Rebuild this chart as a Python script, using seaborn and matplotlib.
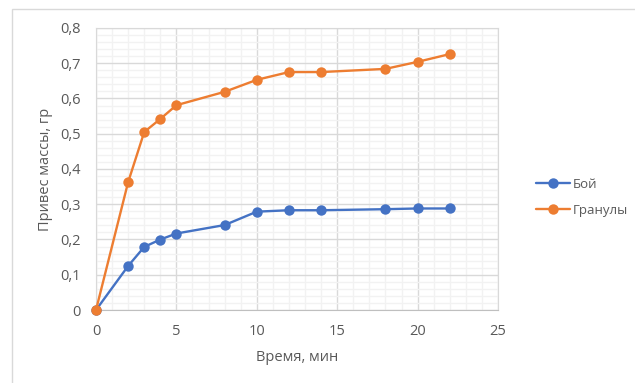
import pandas as pd
import matplotlib.pyplot as plt
import seaborn as sns
from matplotlib.ticker import MultipleLocator, FuncFormatter
from matplotlib.patches import Rectangle

sns.set_style("white")
plt.rcParams["font.family"] = ["Open Sans", "DejaVu Sans"]

TIME = [0, 2, 3, 4, 5, 8, 10, 12, 14, 18, 20, 22]
BOY = [0, 0.125, 0.179, 0.200, 0.217, 0.241, 0.279, 0.283, 0.283, 0.286, 0.288, 0.288]
GRANULES = [0, 0.363, 0.505, 0.542, 0.581, 0.619, 0.653, 0.675, 0.675, 0.684, 0.704, 0.726]
SERIES = ["Бой", "Гранулы"]
COLORS = {"Бой": "#4472C4", "Гранулы": "#ED7D31"}
TEXT = "#595959"


def main():
    df = pd.DataFrame({
        "time": TIME * 2,
        "value": BOY + GRANULES,
        "series": [SERIES[0]] * len(TIME) + [SERIES[1]] * len(TIME),
    })

    fig = plt.figure(figsize=(6.35, 3.83), dpi=100)
    fig.patches.append(Rectangle((12 / 635, -0.1), 1.2, (383 - 9) / 383 + 0.1,
                                 transform=fig.transFigure, fill=False,
                                 edgecolor="#D9D9D9", linewidth=1))
    ax = fig.add_axes([96 / 635, 73 / 383, 402 / 635, 282 / 383])

    sns.lineplot(data=df, x="time", y="value", hue="series", hue_order=SERIES,
                 palette=COLORS, marker="o", markersize=7.5, linewidth=1.7,
                 markeredgewidth=0, ax=ax, zorder=3, clip_on=False)

    ax.set_xlim(0, 25)
    ax.set_ylim(0, 0.8)
    ax.xaxis.set_major_locator(MultipleLocator(5))
    ax.xaxis.set_minor_locator(MultipleLocator(1))
    ax.yaxis.set_major_locator(MultipleLocator(0.1))
    ax.yaxis.set_minor_locator(MultipleLocator(0.02))
    ax.yaxis.set_major_formatter(FuncFormatter(lambda v, p: ("%g" % round(v, 2)).replace(".", ",")))
    ax.grid(which="major", color="#D9D9D9", linewidth=1)
    ax.grid(which="minor", color="#F2F2F2", linewidth=1)
    ax.set_axisbelow(True)
    ax.tick_params(which="both", length=0, colors=TEXT, labelsize=10.5)
    ax.tick_params(axis="x", pad=10)
    ax.tick_params(axis="y", pad=11)
    for s in ax.spines.values():
        s.set_color("#D9D9D9")
    ax.spines["bottom"].set_color("#BFBFBF")

    ax.set_xlabel("Время, мин", color=TEXT, fontsize=10.5, labelpad=8)
    ax.set_ylabel("Привес массы, гр", color=TEXT, fontsize=10.5, labelpad=5)

    ax.legend(loc="center left", bbox_to_anchor=(1.065, 0.40), frameon=False,
              fontsize=9.5, labelcolor=TEXT, handlelength=2.6, handletextpad=0.2,
              labelspacing=1.0)

    fig.savefig("out.png", dpi=100, facecolor="white")
    plt.close(fig)


if __name__ == "__main__":
    main()
